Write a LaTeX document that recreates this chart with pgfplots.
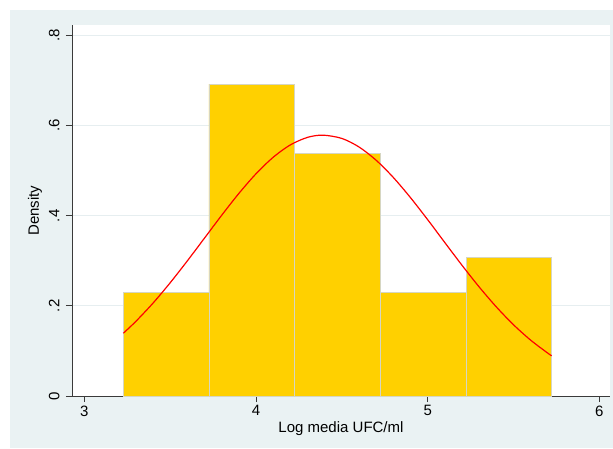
\documentclass[border=0pt]{standalone}
\usepackage{pgfplots}
\pgfplotsset{compat=1.18}
\usepackage{fontspec}
\setmainfont{Liberation Sans}
\definecolor{graphbg}{HTML}{EAF2F3}
\definecolor{barfill}{HTML}{FFD000}
\definecolor{baredge}{HTML}{D6D6C2}
\definecolor{gridc}{HTML}{E6EEF0}
\definecolor{axisc}{HTML}{3A3A3A}
\begin{document}
\begin{tikzpicture}
% page and graph region
\fill[white] (0,0) rectangle (613pt,448pt);
\fill[graphbg] (10pt,0) rectangle (613pt,438pt);
\begin{axis}[
  at={(72pt,52pt)}, anchor=south west,
  scale only axis,
  width=538pt, height=371pt,
  xmin=2.928, xmax=6.062,
  ymin=0, ymax=0.8235,
  axis background/.style={fill=white},
  axis x line*=bottom, axis y line*=left,
  axis line style={axisc, line width=0.9pt},
  every outer x axis line/.append style={-},
  every outer y axis line/.append style={-},
  xtick={3,4,5,6},
  ytick={0,0.2,0.4,0.6,0.8},
  yticklabels={0,.2,.4,.6,.8},
  tick style={axisc, line width=0.8pt},
  tick align=outside,
  major tick length=6pt,
  ymajorgrids=true,
  grid style={gridc, line width=1pt},
  yticklabel style={rotate=90, anchor=south},
  yticklabel shift=3pt,
  ticklabel style={font=\fontsize{15}{15}\selectfont, text=black},
  /pgf/number format/assume math mode=true,
  xlabel={Log media UFC/ml},
  ylabel={Density},
  label style={font=\fontsize{15}{15}\selectfont},
  xlabel style={yshift=1pt},
  ylabel style={yshift=0pt},
  clip=false,
]
% histogram bins (density), width 0.4995
\addplot[ybar interval, fill=barfill, draw=baredge, line width=0.8pt]
  coordinates {
    (3.227,0.2308) (3.726,0.6923) (4.225,0.5385)
    (4.725,0.2308) (5.224,0.3077) (5.722,0.3077)
  };
% normal density overlay
\addplot[red, line width=1.2pt, smooth] coordinates {
  (3.227,0.1393) (3.3,0.1657) (3.4,0.2062) (3.5,0.2514) (3.6,0.3000)
  (3.7,0.3506) (3.8,0.4012) (3.9,0.4496) (4.0,0.4933) (4.1,0.5299)
  (4.2,0.5574) (4.3,0.5741) (4.39,0.5790) (4.5,0.5717) (4.6,0.5527)
  (4.7,0.5232) (4.8,0.4850) (4.9,0.4402) (5.0,0.3913) (5.1,0.3405)
  (5.2,0.2901) (5.3,0.2420) (5.4,0.1977) (5.5,0.1581) (5.6,0.1239)
  (5.7,0.0950) (5.722,0.0893)
};
\end{axis}
\pgfresetboundingbox
\path (0,0) rectangle (613pt,448pt);
\end{tikzpicture}
\end{document}
